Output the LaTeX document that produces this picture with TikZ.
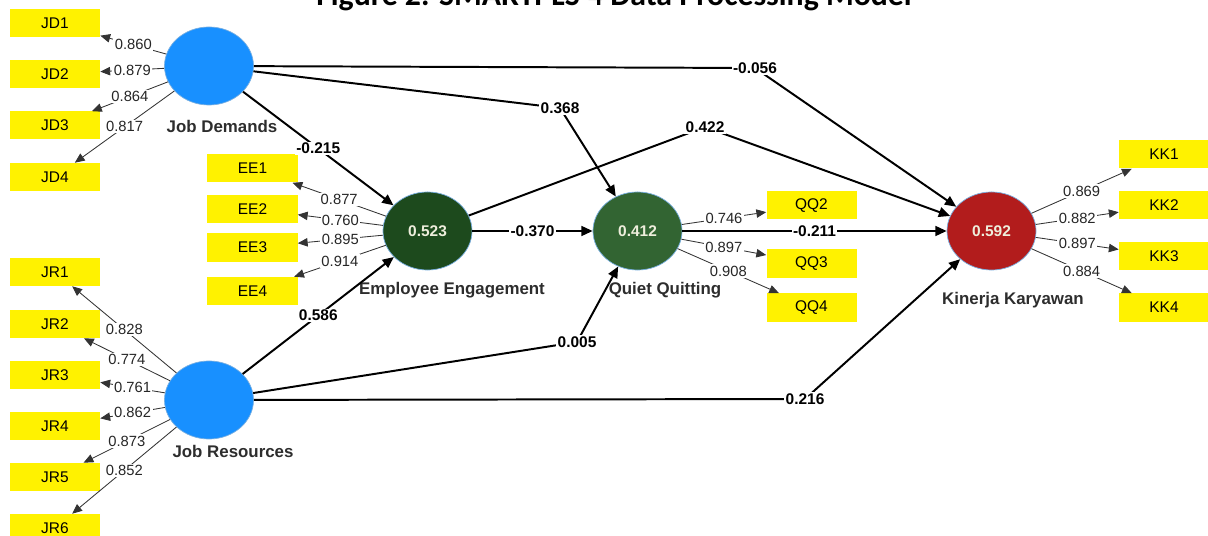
\documentclass[tikz,border=0pt]{standalone}
\usepackage{fontspec}
\setmainfont{Liberation Sans}
\newfontfamily\titlefont{Carlito}
\usetikzlibrary{positioning, shapes.geometric, calc}
\usetikzlibrary{arrows.meta}
\definecolor{lvblue}{RGB}{24,144,255}
\definecolor{eegreen}{RGB}{29,74,29}
\definecolor{qqgreen}{RGB}{50,100,50}
\definecolor{kkred}{RGB}{178,28,28}
\definecolor{rimblue}{RGB}{120,175,225}
\definecolor{valtext}{RGB}{238,238,220}
\definecolor{nametext}{RGB}{45,45,45}
\tikzset{indarrow/.style={draw=black!80, line width=0.6pt, -{Triangle[length=7pt, width=6pt]}}}
\tikzset{patharrow/.style={draw=black, line width=1.4pt, -{Triangle[length=8pt, width=7pt]}}}
\tikzset{indicator/.style={fill=yellow, minimum width=2.25cm, minimum height=0.7cm, inner sep=0pt, font=\fontsize{11}{0}\selectfont}}
\tikzset{latent/.style={ellipse, draw=rimblue, line width=0.5pt, minimum width=2.225cm, minimum height=1.95cm, inner sep=0pt, text=valtext, font=\bfseries\fontsize{11}{0}\selectfont}}
\tikzset{loading/.style={fill=white, inner sep=1pt, text=black!85, font=\fontsize{10.5}{0}\selectfont}}
\tikzset{coeff/.style={fill=white, inner sep=1pt, font=\bfseries\fontsize{11}{0}\selectfont}}
\tikzset{lvname/.style={text=nametext, font=\bfseries\fontsize{12}{0}\selectfont}}

\begin{document}
\begin{tikzpicture}[x=0.025cm, y=-0.025cm]
	\useasboundingbox (0,0) rectangle (1208,536);

	\node[font=\titlefont\bfseries\fontsize{22.6}{0}\selectfont, anchor=base] (title) at (614,6) {Figure 2. SMARTPLS 4 Data Processing Model};

	% LATENTE VARIABLEN
	\node[latent, fill=lvblue]  (JD) at (209,66)    {};
	\node[latent, fill=lvblue]  (JR) at (209,400)   {};
	\node[latent, fill=eegreen] (EE) at (427.5,231) {0.523};
	\node[latent, fill=qqgreen] (QQ) at (637.5,231) {0.412};
	\node[latent, fill=kkred]   (KK) at (991.5,231) {0.592};

	\node[lvname] (JDText) at (222,126)  {Job Demands};
	\node[lvname] (JRText) at (233,451)  {Job Resources};
	\node[lvname] (EEText) at (452,290)  {Employee Engagement};
	\node[lvname] (QQText) at (665,290)  {Quiet Quitting};
	\node[lvname] (KKText) at (1013,300) {Kinerja Karyawan};

	% INDIKATOREN
	\foreach \i/\y/\v in {1/23/0.860, 2/74/0.879, 3/125.5/0.864, 4/177/0.817} {
		\node[indicator] (jd\i) at (55,\y) {JD\i};
		\draw[indarrow] (JD) -- node[loading] {\v} (jd\i);
	}
	\foreach \i/\y/\v in {1/272/0.828, 2/324/0.774, 3/375/0.761, 4/426/0.862, 5/477/0.873, 6/528/0.852} {
		\node[indicator] (jr\i) at (55,\y) {JR\i};
		\draw[indarrow] (JR) -- node[loading] {\v} (jr\i);
	}
	\foreach \i/\y/\v in {1/168.5/0.877, 2/209/0.760, 3/247.5/0.895, 4/291/0.914} {
		\node[indicator] (ee\i) at (252.5,\y) {EE\i};
		\draw[indarrow] (EE) -- node[loading] {\v} (ee\i);
	}
	\foreach \i/\y/\v in {2/205.5/0.746, 3/263.5/0.897, 4/307.5/0.908} {
		\node[indicator] (qq\i) at (811.5,\y) {QQ\i};
		\draw[indarrow] (QQ) -- node[loading] {\v} (qq\i);
	}
	\foreach \i/\y/\v in {1/154.5/0.869, 2/205.5/0.882, 3/256/0.897, 4/307.5/0.884} {
		\node[indicator] (kk\i) at (1164,\y) {KK\i};
		\draw[indarrow] (KK) -- node[loading] {\v} (kk\i);
	}

	% PFADE
	\draw[patharrow] (JD) -- node[coeff] {-0.215} (EE);
	\draw[patharrow] (JR) -- node[coeff] {0.586}  (EE);
	\draw[patharrow] (EE) -- node[coeff] {-0.370} (QQ);
	\draw[patharrow] (QQ) -- node[coeff] {-0.211} (KK);

	\coordinate (b056) at (755,68);
	\coordinate (b368) at (560,108);
	\coordinate (b422) at (705,127);
	\coordinate (b005) at (577,342);
	\coordinate (b216) at (805,399);

	\draw[patharrow] (JD) -- (b056) -- (KK);
	\draw[patharrow] (JD) -- (b368) -- (QQ);
	\draw[patharrow] (EE) -- (b422) -- (KK);
	\draw[patharrow] (JR) -- (b005) -- (QQ);
	\draw[patharrow] (JR) -- (b216) -- (KK);

	\node[coeff] (c056) at (b056) {-0.056};
	\node[coeff] (c368) at (b368) {0.368};
	\node[coeff] (c422) at (b422) {0.422};
	\node[coeff] (c005) at (b005) {0.005};
	\node[coeff] (c216) at (b216) {0.216};
\end{tikzpicture}
\end{document}
